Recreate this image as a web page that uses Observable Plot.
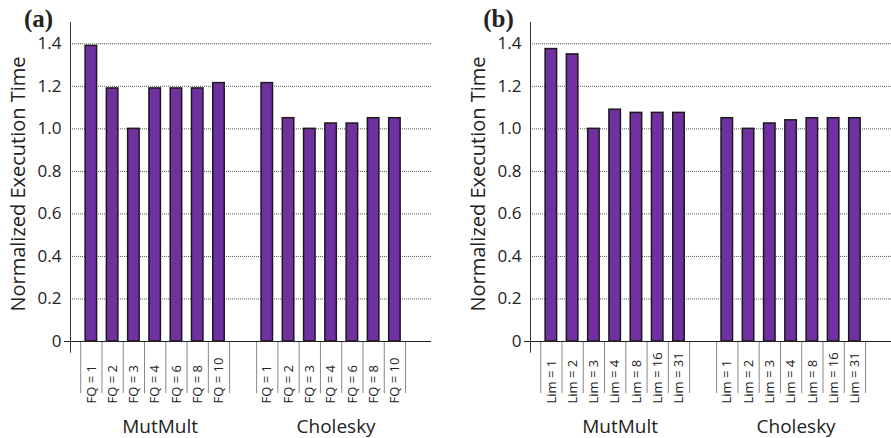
<!DOCTYPE html>
<html><head><meta charset="utf-8">
<script src="https://cdn.jsdelivr.net/npm/d3@7"></script>
<script src="https://cdn.jsdelivr.net/npm/@observablehq/plot@0.6"></script>
<style>
body{margin:0;background:#fff}
#wrap{display:flex;width:891px;height:438px;overflow:hidden}
#wrap svg{display:block;flex:none}
</style>
</head><body><div id="wrap"></div>
<script>
const groups = ["MutMult", "Cholesky"];
const fqLabels = ["FQ = 1", "FQ = 2", "FQ = 3", "FQ = 4", "FQ = 6", "FQ = 8", "FQ = 10"];
const limLabels = ["Lim = 1", "Lim = 2", "Lim = 3", "Lim = 4", "Lim = 8", "Lim = 16", "Lim = 31"];
const mutMultFQ = [1.39, 1.19, 1.00, 1.19, 1.19, 1.19, 1.215];
const choleskyFQ = [1.215, 1.05, 1.00, 1.025, 1.025, 1.05, 1.05];
const mutMultLim = [1.375, 1.35, 1.00, 1.09, 1.075, 1.075, 1.075];
const choleskyLim = [1.05, 1.00, 1.025, 1.04, 1.05, 1.05, 1.05];
const yTicks = [0, 0.2, 0.4, 0.6, 0.8, 1.0, 1.2, 1.4];
const yTickLabels = ["0", "0.2", "0.4", "0.6", "0.8", "1.0", "1.2", "1.4"];
const panelLabels = ["(a)", "(b)"];
const yTitle = "Normalized Execution Time";

const groupGap = 1.27;
const xDomain = [-0.48, 2 * fqLabels.length + groupGap + 1.22];
const yDomain = [0, 1.5];
const dividerDepth = 0.245;
const axisOvershoot = 0.055;

function rows(labels, seriesByGroup) {
  return groups.flatMap((g, gi) => labels.map((label, i) => ({
    group: g, label, value: seriesByGroup[gi][i], pos: gi * (labels.length + groupGap) + i
  })));
}

function panel(data, panelLabel, marginLeft, marginRight, width) {
  const spans = groups.map(g => {
    const gs = data.filter(d => d.group === g);
    return {group: g, start: gs[0].pos, end: gs[gs.length - 1].pos + 1};
  });
  return Plot.plot({
    width, height: 438, marginLeft, marginRight, marginTop: 22, marginBottom: 97,
    x: {type: "linear", domain: xDomain, axis: null},
    y: {domain: yDomain, axis: null},
    style: {fontFamily: "'Open Sans', sans-serif", color: "#222", background: "#fff", overflow: "visible"},
    marks: [
      Plot.ruleY(yTicks.filter(d => d > 0), {x1: xDomain[0], x2: xDomain[1], stroke: "#555", strokeDasharray: "1,1"}),
      Plot.rect(data, {x1: "pos", x2: d => d.pos + 1, y1: 0, y2: "value", insetLeft: 4.9, insetRight: 4.9,
        fill: "#7030A0", stroke: "#1a1a1a", strokeWidth: 1.5}),
      Plot.ruleX(data, {x: "pos", y1: 0, y2: -dividerDepth, stroke: "#888"}),
      Plot.ruleX(spans, {x: "end", y1: 0, y2: -dividerDepth, stroke: "#888"}),
      Plot.ruleY([0], {x1: xDomain[0] - 0.28, x2: xDomain[1], stroke: "#222"}),
      Plot.ruleX([xDomain[0]], {y1: -axisOvershoot, y2: yDomain[1], stroke: "#333"}),
      Plot.axisY(yTicks, {tickFormat: d => yTickLabels[yTicks.indexOf(d)], tickSize: 0, tickPadding: 9, fontSize: 17, label: null}),
      Plot.text([yTitle], {text: d => d, frameAnchor: "left", textAnchor: "middle", lineAnchor: "middle",
        rotate: -90, dx: -52, dy: 2, fontSize: 20}),
      Plot.text([panelLabel], {text: d => d, frameAnchor: "top-left", textAnchor: "middle", lineAnchor: "middle",
        dx: -32, dy: -4, fontFamily: "'Liberation Serif', 'Times New Roman', serif", fontWeight: "bold", fontSize: 25}),
      Plot.text(data, {x: d => d.pos + 0.5, y: 0, text: "label", rotate: -90, textAnchor: "start", dy: 62, fontSize: 13}),
      Plot.text(spans, {x: d => (d.start + d.end) / 2, y: 0, text: "group", dy: 85, dx: 5, fontSize: 19})
    ]
  });
}

const wrap = document.getElementById("wrap");
wrap.append(panel(rows(fqLabels, [mutMultFQ, choleskyFQ]), panelLabels[0], 70, 14, 445));
wrap.append(panel(rows(limLabels, [mutMultLim, choleskyLim]), panelLabels[1], 85, 0, 446));
</script>
</body></html>
